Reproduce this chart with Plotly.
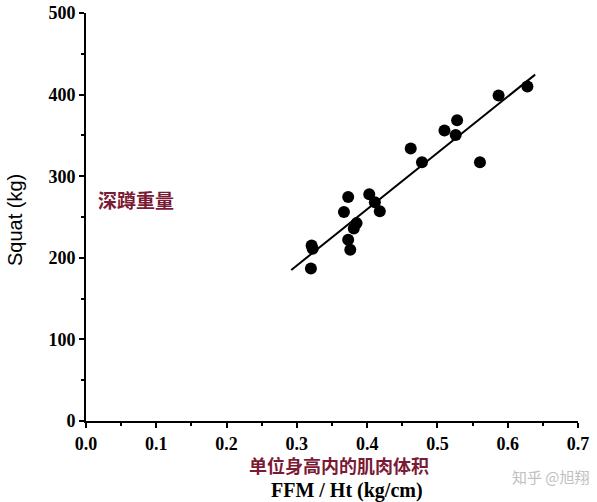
import plotly.graph_objects as go

# Data
ffm_ht = [0.320, 0.321, 0.3225, 0.367, 0.373, 0.373, 0.376, 0.381, 0.385,
          0.403, 0.411, 0.418, 0.462, 0.478, 0.510, 0.526, 0.528, 0.5605,
          0.587, 0.628]
squat = [187, 215, 211, 256, 274.5, 222, 210, 236, 242.5,
         278, 268, 257, 334, 317, 356, 350.5, 368.5, 317,
         399, 410]

fit_x = [0.292, 0.639]
fit_y = [185, 424.5]

x_ticks = [0.0, 0.1, 0.2, 0.3, 0.4, 0.5, 0.6, 0.7]
x_tick_labels = ["0.0", "0.1", "0.2", "0.3", "0.4", "0.5", "0.6", "0.7"]
y_ticks = [0, 100, 200, 300, 400, 500]
y_tick_labels = ["0", "100", "200", "300", "400", "500"]

fig = go.Figure()
fig.add_trace(go.Scatter(x=fit_x, y=fit_y, mode="lines",
                         line=dict(color="black", width=2), showlegend=False))
fig.add_trace(go.Scatter(x=ffm_ht, y=squat, mode="markers",
                         marker=dict(color="black", size=12), showlegend=False))

tickfont = dict(family="Liberation Serif", size=18, color="black")
fig.update_layout(
    width=597, height=502,
    margin=dict(l=86, r=19, t=13, b=81, autoexpand=False),
    paper_bgcolor="white", plot_bgcolor="white",
    xaxis=dict(range=[0, 0.7], tickvals=x_ticks,
               ticktext=["<b>%s</b>" % t for t in x_tick_labels],
               showgrid=False, zeroline=False, showline=True, automargin=False,
               linecolor="black", linewidth=2, ticks="outside", ticklen=5,
               tickwidth=2, tickcolor="black", tickfont=tickfont,
               minor=dict(tickvals=[0.05, 0.15, 0.25, 0.35, 0.45, 0.55, 0.65],
                          ticks="outside", ticklen=3, tickwidth=1.5, tickcolor="black")),
    yaxis=dict(range=[0, 500], tickvals=y_ticks,
               ticktext=["<b>%s</b>" % t for t in y_tick_labels],
               showgrid=False, zeroline=False, showline=True, automargin=False,
               linecolor="black", linewidth=2, ticks="outside", ticklen=5,
               tickwidth=2, tickcolor="black", tickfont=tickfont,
               minor=dict(tickvals=[50, 150, 250, 350, 450],
                          ticks="outside", ticklen=3, tickwidth=1.5, tickcolor="black")),
)

cn_color = "#7b1a35"
cjk = "Noto Sans CJK SC"
fig.add_annotation(x=0.0142, y=271, xref="x", yref="y", text="<b>深蹲重量</b>",
                   showarrow=False, xanchor="left", yanchor="middle",
                   font=dict(family=cjk, size=19, color=cn_color))
fig.add_annotation(x=0.514, y=-0.108, xref="paper", yref="paper",
                   text="<b>单位身高内的肌肉体积</b>", showarrow=False,
                   xanchor="center", yanchor="middle",
                   font=dict(family=cjk, size=18, color=cn_color))
fig.add_annotation(x=0.5305, y=-0.171, xref="paper", yref="paper",
                   text="<b>FFM / Ht (kg/cm)</b>", showarrow=False,
                   xanchor="center", yanchor="middle",
                   font=dict(family="Liberation Serif", size=20, color="black"))
fig.add_annotation(x=-0.144, y=0.493, xref="paper", yref="paper",
                   text="Squat (kg)", showarrow=False, textangle=-90,
                   xanchor="center", yanchor="middle",
                   font=dict(family="Liberation Sans", size=20, color="black"))
fig.add_annotation(x=0.945, y=-0.135, xref="paper", yref="paper",
                   text="知乎 @旭翔", showarrow=False,
                   xanchor="center", yanchor="middle",
                   font=dict(family=cjk, size=15, color="#c0c0c0"))

fig.write_html("out.html", config={"displayModeBar": False},
               post_script="document.body.style.margin='0px';")
